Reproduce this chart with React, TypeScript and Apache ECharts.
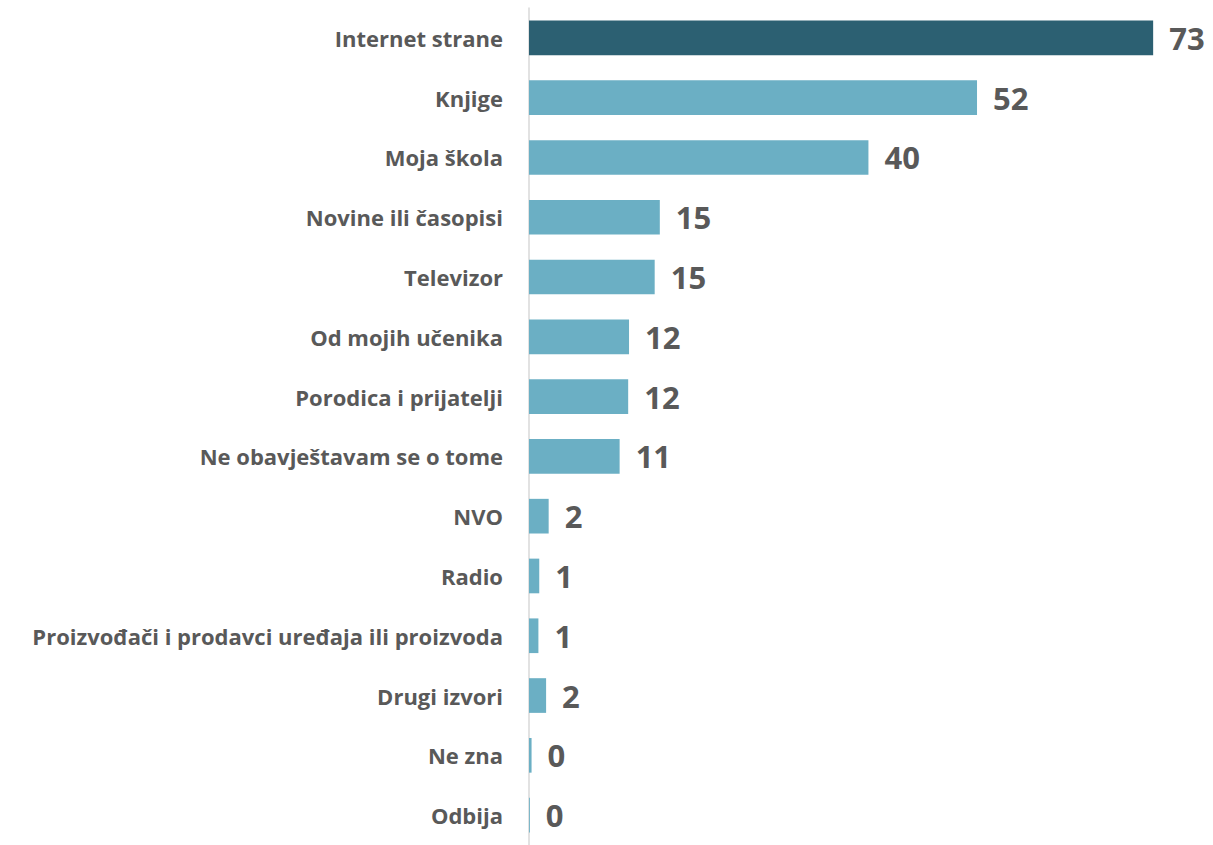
import React, { useEffect, useRef } from "react";
import * as echarts from "echarts";

const categories = [
  "Internet strane",
  "Knjige",
  "Moja škola",
  "Novine ili časopisi",
  "Televizor",
  "Od mojih učenika",
  "Porodica i prijatelji",
  "Ne obavještavam se o tome",
  "NVO",
  "Radio",
  "Proizvođači i prodavci uređaja ili proizvoda",
  "Drugi izvori",
  "Ne zna",
  "Odbija",
];
const values = [73, 52.4, 39.7, 15.3, 14.7, 11.7, 11.6, 10.6, 2.3, 1.2, 1.1, 2.0, 0.3, 0.1];
const highlightIndex = 0;
const darkColor = "#2C6072";
const lightColor = "#6BAFC4";
const textColor = "#595959";

export default function App() {
  const ref = useRef<HTMLDivElement>(null);
  useEffect(() => {
    if (!ref.current) return;
    const chart = echarts.init(ref.current, undefined, { renderer: "svg" });
    chart.setOption({
      animation: false,
      grid: { left: 529, top: 8, width: 688, height: 843, containLabel: false },
      xAxis: {
        type: "value",
        min: 0,
        max: 80,
        show: false,
      },
      yAxis: {
        type: "category",
        inverse: true,
        data: categories,
        axisLine: { show: true, lineStyle: { color: "#D9D9D9", width: 1.5 } },
        axisTick: { show: false },
        axisLabel: {
          margin: 26,
          color: textColor,
          fontFamily: "Open Sans",
          fontWeight: "bold",
          fontSize: 22,
        },
      },
      series: [
        {
          type: "bar",
          data: values.map((v, i) => ({
            value: v,
            itemStyle: { color: i === highlightIndex ? darkColor : lightColor },
          })),
          barCategoryGap: "42%",
          label: {
            show: true,
            position: "right",
            distance: 16,
            color: textColor,
            fontFamily: "Open Sans",
            fontWeight: "bold",
            fontSize: 31,
            formatter: (p: any) => String(Math.round(p.value)),
          },
        },
      ],
    });
    return () => chart.dispose();
  }, []);
  return (
    <div
      ref={ref}
      style={{ position: "fixed", left: 0, top: 0, width: 1213, height: 845, background: "#fff" }}
    />
  );
}
